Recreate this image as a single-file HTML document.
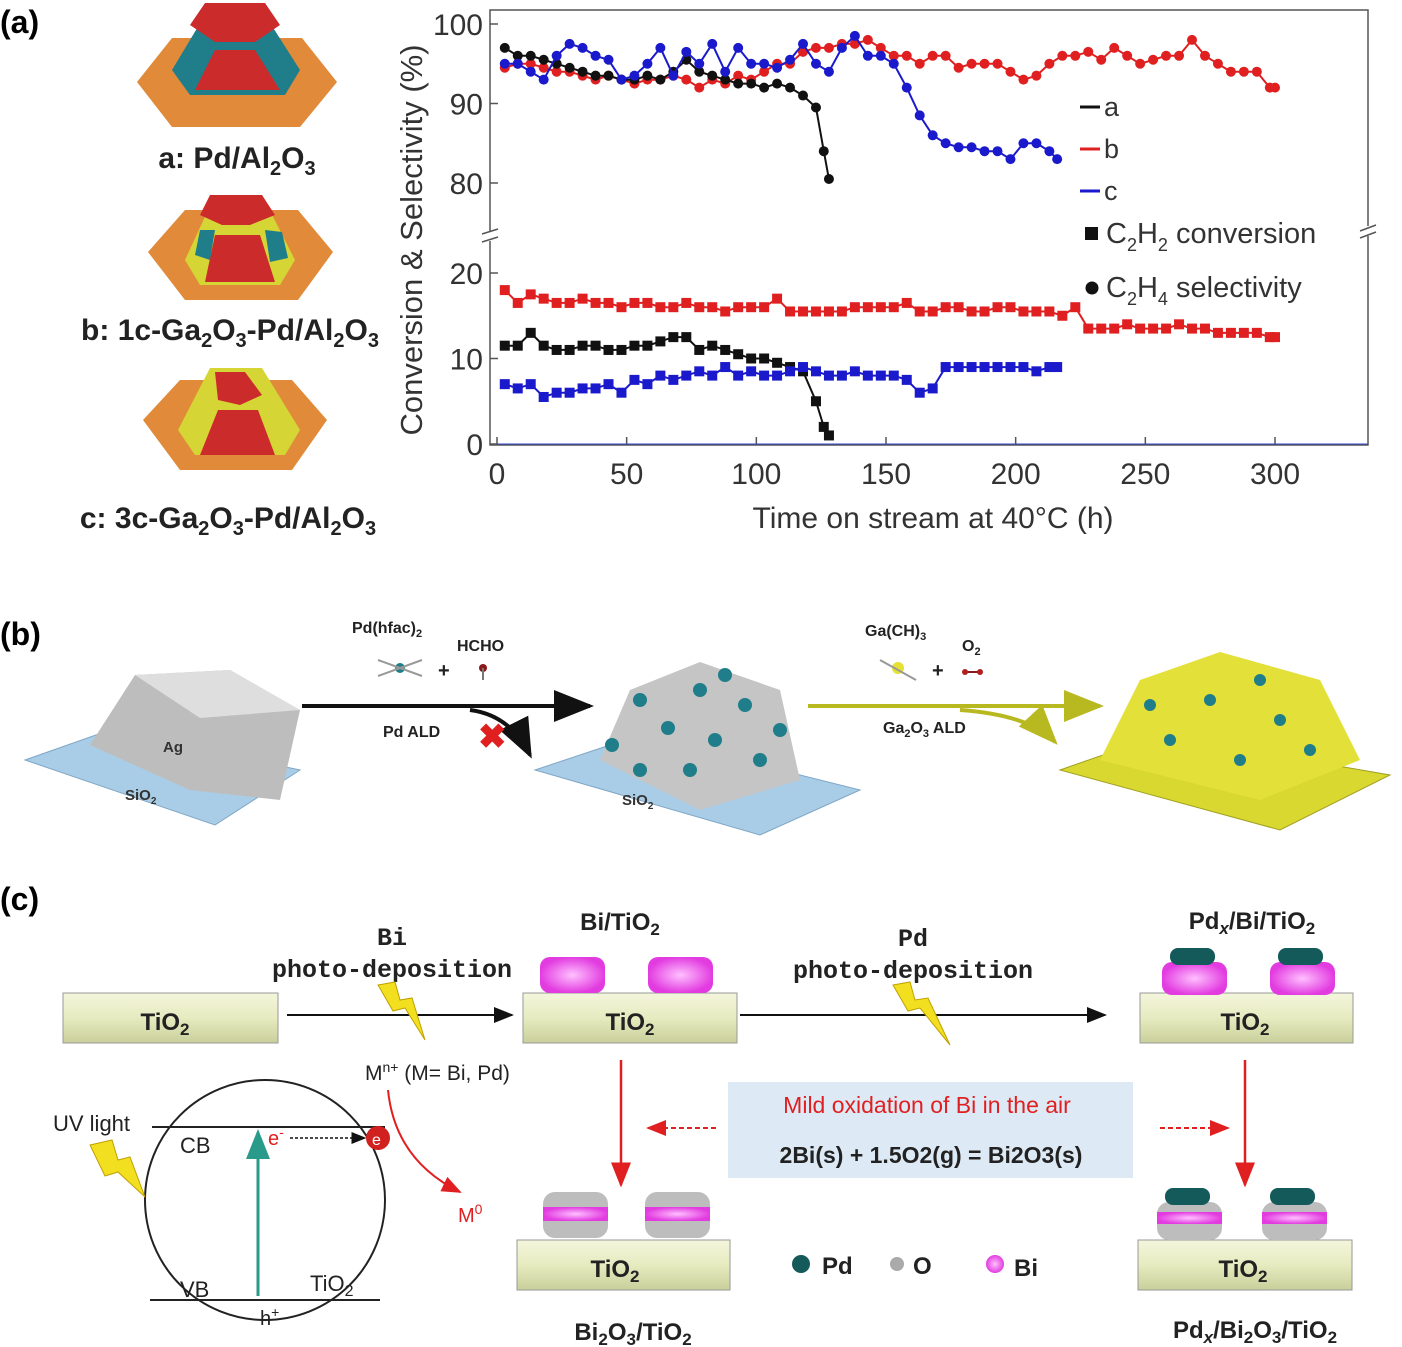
<!DOCTYPE html>
<html><head><meta charset="utf-8"><style>
html,body{margin:0;padding:0;background:#fff}
svg{display:block}
.lab{font-family:"Liberation Sans",sans-serif}
.bold{font-family:"Liberation Sans",sans-serif;font-weight:bold}
.mono{font-family:"Liberation Mono",monospace;font-weight:bold}
</style></head><body>
<svg id="fig" width="1402" height="1347" viewBox="0 0 1402 1347" xmlns="http://www.w3.org/2000/svg">
<defs>
<linearGradient id="tube" x1="0" y1="0" x2="0" y2="1"><stop offset="0" stop-color="#f4f6dc"/><stop offset="0.5" stop-color="#e6ebc0"/><stop offset="1" stop-color="#c9cf9a"/></linearGradient>
<radialGradient id="pk"><stop offset="0" stop-color="#ffc0ff"/><stop offset="1" stop-color="#e23ce0"/></radialGradient>
<marker id="ah" markerWidth="10" markerHeight="10" refX="9" refY="5" orient="auto"><path d="M0,1 L10,5 L0,9 z" fill="#111"/></marker>
<marker id="ahr" markerWidth="10" markerHeight="10" refX="9" refY="5" orient="auto"><path d="M0,1 L10,5 L0,9 z" fill="#e02020"/></marker>
<marker id="ahy" markerWidth="10" markerHeight="10" refX="9" refY="5" orient="auto"><path d="M0,1 L10,5 L0,9 z" fill="#b8b820"/></marker>
<marker id="aht" markerWidth="10" markerHeight="10" refX="9" refY="5" orient="auto"><path d="M0,1 L10,5 L0,9 z" fill="#2a9a8a"/></marker>
</defs>

<text x="0" y="33" class="bold" font-size="32">(a)</text>

<g>
<polygon points="137,82 172,38 302,38 337,82 300,127 172,127" fill="#e08a3a"/>
<polygon points="172,70 205,15 265,15 300,70 285,95 190,95" fill="#1f7e8a"/>
<polygon points="205,3 265,3 280,25 255,42 215,42 190,25" fill="#cc2b2b"/>
<polygon points="215,50 255,50 280,90 195,90" fill="#cc2b2b"/>
</g>
<text x="237" y="168" text-anchor="middle" class="bold" font-size="30" fill="#222">a: Pd/Al<tspan font-size="20" dy="7">2</tspan><tspan dy="-7">O</tspan><tspan font-size="20" dy="7">3</tspan></text>

<g>
<polygon points="148,252 185,210 298,210 333,252 298,300 185,300" fill="#e08a3a"/>
<polygon points="185,260 215,195 262,195 295,260 280,285 200,285" fill="#d5d535"/>
<polygon points="210,195 262,195 275,215 250,225 222,225 200,215" fill="#cc2b2b"/>
<polygon points="215,235 260,235 275,282 205,282" fill="#cc2b2b"/>
<polygon points="200,230 215,230 210,260 195,255" fill="#1f7e8a"/>
<polygon points="265,230 282,232 288,258 270,262" fill="#1f7e8a"/>
</g>
<text x="230" y="340" text-anchor="middle" class="bold" font-size="30" fill="#222">b: 1c-Ga<tspan font-size="20" dy="7">2</tspan><tspan dy="-7">O</tspan><tspan font-size="20" dy="7">3</tspan><tspan dy="-7">-Pd/Al</tspan><tspan font-size="20" dy="7">2</tspan><tspan dy="-7">O</tspan><tspan font-size="20" dy="7">3</tspan></text>

<g>
<polygon points="143,420 180,380 292,380 327,420 292,470 180,470" fill="#e08a3a"/>
<polygon points="178,430 210,368 262,368 300,430 285,455 195,455" fill="#d5d535"/>
<polygon points="215,372 245,372 262,395 240,405 218,400" fill="#cc2b2b"/>
<polygon points="218,410 258,410 275,455 200,455" fill="#cc2b2b"/>
</g>
<text x="228" y="528" text-anchor="middle" class="bold" font-size="30" fill="#222">c: 3c-Ga<tspan font-size="20" dy="7">2</tspan><tspan dy="-7">O</tspan><tspan font-size="20" dy="7">3</tspan><tspan dy="-7">-Pd/Al</tspan><tspan font-size="20" dy="7">2</tspan><tspan dy="-7">O</tspan><tspan font-size="20" dy="7">3</tspan></text>

<g id="chart">
<rect x="490" y="10" width="878" height="435" fill="none" stroke="#555" stroke-width="1.5"/>
<text transform="translate(422,240) rotate(-90)" text-anchor="middle" class="lab" font-size="31" fill="#333">Conversion &amp; Selectivity (%)</text>
<text x="933" y="528" text-anchor="middle" class="lab" font-size="30" fill="#333">Time on stream at 40°C (h)</text>
<g id="ticks"></g>
<g id="series"></g>
<g>
<line x1="1080" y1="107" x2="1100" y2="107" stroke="#111" stroke-width="3"/><text x="1104" y="116" class="lab" font-size="27" fill="#333">a</text>
<line x1="1080" y1="149" x2="1100" y2="149" stroke="#e02020" stroke-width="3"/><text x="1104" y="158" class="lab" font-size="27" fill="#333">b</text>
<line x1="1080" y1="191" x2="1100" y2="191" stroke="#1a1acc" stroke-width="3"/><text x="1104" y="200" class="lab" font-size="27" fill="#333">c</text>
<rect x="1085" y="227" width="13" height="13" fill="#111"/>
<text x="1106" y="243" class="lab" font-size="29" fill="#333">C<tspan font-size="18" dy="8">2</tspan><tspan dy="-8">H</tspan><tspan font-size="18" dy="8">2</tspan><tspan dy="-8"> conversion</tspan></text>
<circle cx="1092" cy="288" r="6.5" fill="#111"/>
<text x="1106" y="297" class="lab" font-size="29" fill="#333">C<tspan font-size="18" dy="8">2</tspan><tspan dy="-8">H</tspan><tspan font-size="18" dy="8">4</tspan><tspan dy="-8"> selectivity</tspan></text>
</g>
<g>
<rect x="480" y="231" width="20" height="10" fill="#fff"/>
<line x1="482" y1="234" x2="498" y2="229" stroke="#555" stroke-width="1.5"/>
<line x1="482" y1="242" x2="498" y2="237" stroke="#555" stroke-width="1.5"/>
<rect x="1360" y="226" width="16" height="10" fill="#fff"/>
<line x1="1360" y1="231" x2="1376" y2="225" stroke="#555" stroke-width="1.5"/>
<line x1="1360" y1="238" x2="1376" y2="232" stroke="#555" stroke-width="1.5"/>
</g>
</g>

<text x="0" y="645" class="bold" font-size="32">(b)</text>
<g>
<polygon points="25,760 110,730 300,770 215,825" fill="#a9cde6" stroke="#7ea6c6"/>
<polygon points="90,745 135,675 230,670 300,710 280,800 190,790" fill="#bdbdbd"/>
<polygon points="135,675 230,670 300,710 200,718" fill="#dedede"/>
<text x="163" y="752" class="bold" font-size="15" fill="#333">Ag</text>
<text x="125" y="800" class="bold" font-size="15" fill="#333">SiO<tspan font-size="10" dy="4">2</tspan></text>
</g>
<line x1="302" y1="706" x2="590" y2="706" stroke="#111" stroke-width="4" marker-end="url(#ah)"/>
<text x="352" y="633" class="bold" font-size="16" fill="#222">Pd(hfac)<tspan font-size="11" dy="4">2</tspan></text>
<text x="457" y="651" class="bold" font-size="16" fill="#222">HCHO</text>
<text x="438" y="677" class="bold" font-size="20" fill="#222">+</text>
<g><circle cx="400" cy="668" r="5" fill="#1f7e8a"/><line x1="378" y1="660" x2="422" y2="676" stroke="#999" stroke-width="2"/><line x1="378" y1="676" x2="422" y2="660" stroke="#999" stroke-width="2"/></g>
<g><circle cx="483" cy="668" r="4" fill="#8b1a1a"/><line x1="483" y1="668" x2="483" y2="680" stroke="#777" stroke-width="2"/></g>
<text x="383" y="737" class="bold" font-size="16" fill="#222">Pd ALD</text>
<path d="M470,710 Q510,715 530,755" fill="none" stroke="#111" stroke-width="4" marker-end="url(#ah)"/>
<text x="478" y="748" class="bold" font-size="34" fill="#e02020">✖</text>
<g>
<polygon points="535,770 640,735 860,790 760,835" fill="#a9cde6" stroke="#7ea6c6"/>
<polygon points="600,760 630,690 700,662 780,690 800,780 700,810" fill="#c5c5c5"/>
<g fill="#1f7e8a">
<circle cx="612" cy="745" r="7"/><circle cx="640" cy="700" r="7"/><circle cx="668" cy="728" r="7"/><circle cx="700" cy="690" r="7"/><circle cx="715" cy="740" r="7"/><circle cx="745" cy="705" r="7"/><circle cx="760" cy="760" r="7"/><circle cx="690" cy="770" r="7"/><circle cx="640" cy="770" r="7"/><circle cx="780" cy="730" r="7"/><circle cx="725" cy="675" r="7"/>
</g>
<text x="622" y="805" class="bold" font-size="15" fill="#333">SiO<tspan font-size="10" dy="4">2</tspan></text>
</g>
<line x1="808" y1="706" x2="1100" y2="706" stroke="#b8b820" stroke-width="4" marker-end="url(#ahy)"/>
<text x="865" y="636" class="bold" font-size="16" fill="#222">Ga(CH)<tspan font-size="11" dy="4">3</tspan></text>
<text x="962" y="651" class="bold" font-size="16" fill="#222">O<tspan font-size="11" dy="4">2</tspan></text>
<text x="932" y="677" class="bold" font-size="20" fill="#222">+</text>
<g><circle cx="898" cy="668" r="6" fill="#e8e030"/><line x1="880" y1="660" x2="916" y2="680" stroke="#999" stroke-width="2"/></g>
<g><line x1="965" y1="672" x2="980" y2="672" stroke="#8b1a1a" stroke-width="2"/><circle cx="965" cy="672" r="3" fill="#b02020"/><circle cx="980" cy="672" r="3" fill="#b02020"/></g>
<text x="883" y="733" class="bold" font-size="16" fill="#222">Ga<tspan font-size="11" dy="4">2</tspan><tspan dy="-4">O</tspan><tspan font-size="11" dy="4">3</tspan><tspan dy="-4"> ALD</tspan></text>
<path d="M960,710 Q1030,715 1055,742" fill="none" stroke="#b8b820" stroke-width="4" marker-end="url(#ahy)"/>
<g>
<polygon points="1060,770 1160,735 1390,775 1280,830" fill="#d8d830" stroke="#a0a020"/>
<polygon points="1100,760 1140,680 1220,652 1320,680 1360,760 1260,800" fill="#e4e03a"/>
<g fill="#1f7e8a">
<circle cx="1170" cy="740" r="6"/><circle cx="1210" cy="700" r="6"/><circle cx="1240" cy="760" r="6"/><circle cx="1280" cy="720" r="6"/><circle cx="1150" cy="705" r="6"/><circle cx="1310" cy="750" r="6"/><circle cx="1260" cy="680" r="6"/>
</g>
</g>

<text x="0" y="910" class="bold" font-size="32">(c)</text>
<g><rect x="63" y="993" width="215" height="50" fill="url(#tube)" stroke="#999"/><text x="165" y="1030" text-anchor="middle" class="bold" font-size="24" fill="#222">TiO<tspan font-size="17" dy="5">2</tspan></text></g>
<line x1="287" y1="1015" x2="512" y2="1015" stroke="#111" stroke-width="2" marker-end="url(#ah)"/>
<text x="392" y="945" text-anchor="middle" class="mono" font-size="25" fill="#222">Bi</text>
<text x="392" y="977" text-anchor="middle" class="mono" font-size="25" fill="#222">photo-deposition</text>
<polygon points="378,985 395,982 400,1000 412,998 425,1040 405,1008 393,1011" fill="#f2e020" stroke="#c0a000"/>
<text x="620" y="930" text-anchor="middle" class="bold" font-size="24" fill="#222">Bi/TiO<tspan font-size="17" dy="5">2</tspan></text>
<g><rect x="523" y="993" width="214" height="50" fill="url(#tube)" stroke="#999"/><text x="630" y="1030" text-anchor="middle" class="bold" font-size="24" fill="#222">TiO<tspan font-size="17" dy="5">2</tspan></text></g>
<g><rect x="540" y="957" width="65" height="36" rx="10" fill="url(#pk)"/><rect x="648" y="957" width="65" height="36" rx="10" fill="url(#pk)"/></g>
<line x1="740" y1="1015" x2="1105" y2="1015" stroke="#111" stroke-width="2" marker-end="url(#ah)"/>
<text x="913" y="946" text-anchor="middle" class="mono" font-size="25" fill="#222">Pd</text>
<text x="913" y="978" text-anchor="middle" class="mono" font-size="25" fill="#222">photo-deposition</text>
<polygon points="893,985 910,982 915,1000 928,998 950,1045 920,1008 908,1011" fill="#f2e020" stroke="#c0a000"/>
<text x="1252" y="929" text-anchor="middle" class="bold" font-size="24" fill="#222">Pd<tspan font-style="italic" font-size="17" dy="5">x</tspan><tspan dy="-5">/Bi/TiO</tspan><tspan font-size="17" dy="5">2</tspan></text>
<g><rect x="1140" y="993" width="213" height="50" fill="url(#tube)" stroke="#999"/><text x="1245" y="1030" text-anchor="middle" class="bold" font-size="24" fill="#222">TiO<tspan font-size="17" dy="5">2</tspan></text></g>
<g><rect x="1162" y="962" width="65" height="33" rx="10" fill="url(#pk)"/><rect x="1270" y="962" width="65" height="33" rx="10" fill="url(#pk)"/><rect x="1170" y="948" width="45" height="17" rx="8" fill="#145a5a"/><rect x="1278" y="948" width="45" height="17" rx="8" fill="#145a5a"/></g>
<line x1="621" y1="1060" x2="621" y2="1185" stroke="#e02020" stroke-width="2.5" marker-end="url(#ahr)"/>
<line x1="1245" y1="1060" x2="1245" y2="1185" stroke="#e02020" stroke-width="2.5" marker-end="url(#ahr)"/>
<rect x="728" y="1082" width="405" height="96" fill="#ddeaf6"/>
<text x="927" y="1113" text-anchor="middle" class="lab" font-size="23" fill="#e02020">Mild oxidation of Bi in the air</text>
<text x="931" y="1163" text-anchor="middle" class="bold" font-size="23" fill="#222">2Bi(s) + 1.5O2(g) = Bi2O3(s)</text>
<line x1="716" y1="1128" x2="648" y2="1128" stroke="#e02020" stroke-width="2" stroke-dasharray="5,3" marker-end="url(#ahr)"/>
<line x1="1160" y1="1128" x2="1228" y2="1128" stroke="#e02020" stroke-width="2" stroke-dasharray="5,3" marker-end="url(#ahr)"/>
<g><rect x="517" y="1240" width="213" height="50" fill="url(#tube)" stroke="#999"/><text x="615" y="1277" text-anchor="middle" class="bold" font-size="24" fill="#222">TiO<tspan font-size="17" dy="5">2</tspan></text></g>
<g><rect x="543" y="1192" width="65" height="46" rx="12" fill="#bdbdbd"/><rect x="543" y="1207" width="65" height="14" fill="url(#pk)"/><rect x="645" y="1192" width="65" height="46" rx="12" fill="#bdbdbd"/><rect x="645" y="1207" width="65" height="14" fill="url(#pk)"/></g>
<g><rect x="1138" y="1240" width="214" height="50" fill="url(#tube)" stroke="#999"/><text x="1243" y="1277" text-anchor="middle" class="bold" font-size="24" fill="#222">TiO<tspan font-size="17" dy="5">2</tspan></text></g>
<g><rect x="1157" y="1202" width="65" height="38" rx="12" fill="#bdbdbd"/><rect x="1157" y="1212" width="65" height="12" fill="url(#pk)"/><rect x="1262" y="1202" width="65" height="38" rx="12" fill="#bdbdbd"/><rect x="1262" y="1212" width="65" height="12" fill="url(#pk)"/><rect x="1165" y="1188" width="45" height="17" rx="8" fill="#145a5a"/><rect x="1270" y="1188" width="45" height="17" rx="8" fill="#145a5a"/></g>
<text x="633" y="1340" text-anchor="middle" class="bold" font-size="24" fill="#222">Bi<tspan font-size="17" dy="5">2</tspan><tspan dy="-5">O</tspan><tspan font-size="17" dy="5">3</tspan><tspan dy="-5">/TiO</tspan><tspan font-size="17" dy="5">2</tspan></text>
<text x="1255" y="1338" text-anchor="middle" class="bold" font-size="24" fill="#222">Pd<tspan font-style="italic" font-size="17" dy="5">x</tspan><tspan dy="-5">/Bi</tspan><tspan font-size="17" dy="5">2</tspan><tspan dy="-5">O</tspan><tspan font-size="17" dy="5">3</tspan><tspan dy="-5">/TiO</tspan><tspan font-size="17" dy="5">2</tspan></text>
<g>
<circle cx="801" cy="1264" r="9" fill="#145a5a"/><text x="822" y="1274" class="bold" font-size="24" fill="#222">Pd</text>
<circle cx="897" cy="1264" r="7" fill="#aaa"/><text x="913" y="1274" class="bold" font-size="24" fill="#222">O</text>
<circle cx="995" cy="1264" r="9" fill="url(#pk)"/><text x="1014" y="1276" class="bold" font-size="24" fill="#222">Bi</text>
</g>
<g>
<circle cx="265" cy="1200" r="120" fill="none" stroke="#222" stroke-width="2"/>
<line x1="152" y1="1127" x2="385" y2="1127" stroke="#222" stroke-width="2"/>
<line x1="150" y1="1300" x2="380" y2="1300" stroke="#222" stroke-width="2"/>
<text x="180" y="1153" class="lab" font-size="22" fill="#222">CB</text>
<text x="180" y="1297" class="lab" font-size="22" fill="#222">VB</text>
<text x="310" y="1291" class="lab" font-size="22" fill="#222">TiO<tspan font-size="16" dy="5">2</tspan></text>
<text x="260" y="1325" class="lab" font-size="20" fill="#222">h<tspan font-size="14" dy="-8">+</tspan></text>
<line x1="258" y1="1296" x2="258" y2="1132" stroke="#2a9a8a" stroke-width="3" marker-end="url(#aht)"/>
<text x="268" y="1145" class="lab" font-size="20" fill="#e02020">e<tspan font-size="14" dy="-8">-</tspan></text>
<line x1="290" y1="1138" x2="365" y2="1138" stroke="#111" stroke-width="1.5" stroke-dasharray="3,2" marker-end="url(#ah)"/>
<circle cx="378" cy="1138" r="12" fill="#d02020"/><text x="372" y="1145" class="lab" font-size="16" fill="#fff">e</text>
<text x="365" y="1080" class="lab" font-size="21" fill="#222">M<tspan font-size="14" dy="-8">n+</tspan><tspan dy="8"> (M= Bi, Pd)</tspan></text>
<path d="M388,1090 Q395,1160 460,1192" fill="none" stroke="#e02020" stroke-width="2" marker-end="url(#ahr)"/>
<text x="458" y="1222" class="lab" font-size="20" fill="#e02020">M<tspan font-size="14" dy="-8">0</tspan></text>
<text x="53" y="1131" class="lab" font-size="22" fill="#222">UV light</text>
<polygon points="90,1145 112,1140 118,1160 130,1157 145,1197 118,1172 105,1176" fill="#f2e020" stroke="#c0a000"/>
</g>
</svg>
<script>
const xTicks = [0,50,100,150,200,250,300];
const upperTicks = [100,90,80];
const lowerTicks = [20,10,0];
const timeA = [3,8,13,18,23,28,33,38,43,48,53,58,63,68,73,78,83,88,93,98,103,108,113,118,123,126,128];
const selA = [97,96,96,95.5,95,94.5,94,93.5,93.5,93,93,93.5,93,94,95.5,94,93.5,93,92.5,92.5,92,92.5,92,91,89.5,84,80.5];
const convA = [11.5,11.5,13,11.5,11,11,11.5,11.5,11,11,11.5,11.5,12,12.5,12.5,11,11.5,11,10.5,10,10,9.5,9,8.5,5,2,1];
const timeB = [3,8,13,18,23,28,33,38,43,48,53,58,63,68,73,78,83,88,93,98,103,108,113,118,123,128,133,138,143,148,153,158,163,168,173,178,183,188,193,198,203,208,213,218,223,228,233,238,243,248,253,258,263,268,273,278,283,288,293,298,300];
const selB = [94.5,95,95,94.5,94,94,93.5,93,93.5,93,92.5,93,93,93.5,93,92,93,92.5,93.5,93,94,95,95,96.5,97,97,97.5,97.5,98,97,96,96,95,96,96,94.5,95,95,95,94,93,93.5,95,96,96,96.5,95.5,97,96,95,95.5,96,96,98,96,95,94,94,94,92,92];
const convB = [18,16.5,17.5,17,16.5,16.5,17,16.5,16.5,16,16.5,16.5,16,16,16.5,16,16,15.5,16,16,16,17,15.5,15.5,15.5,15.5,15.5,16,16,16,16,16.5,15.5,15.5,16,16,15.5,15.5,16,16,15.5,15.5,15.5,15,16,13.5,13.5,13.5,14,13.5,13.5,13.5,14,13.5,13.5,13,13,13,13,12.5,12.5];
const timeC = [3,8,13,18,23,28,33,38,43,48,53,58,63,68,73,78,83,88,93,98,103,108,113,118,123,128,133,138,143,148,153,158,163,168,173,178,183,188,193,198,203,208,213,216];
const selC = [95,95,94,93,96,97.5,97,96,95.5,93,93.5,95,97,93.5,96.5,95,97.5,94,97,95,95,94.5,95.5,97.5,95,94,97,98.5,96,96,95,92,88.5,86,85,84.5,84.5,84,84,83,85,85,84,83];
const convC = [7,6.5,7,5.5,6,6,6.5,6.5,7,6,7.5,7,8,7.5,8,8.5,8,9,8,8.5,8,8,8.5,9,8.5,8,8,8.5,8,8,8,7.5,6,6.5,9,9,9,9,9,9,9,8.5,9,9];

const NS = 'http://www.w3.org/2000/svg';
function xS(t){ return 497 + t * (1275 - 497) / 300; }
function yUp(v){ return 24 + (100 - v) * (183 - 24) / 20; }
function yLo(v){ return 444 - v * (444 - 273) / 20; }
const tickG = document.getElementById('ticks');
const serG = document.getElementById('series');
function mk(tag, attrs, parent){ const e = document.createElementNS(NS, tag); for (const k in attrs) e.setAttribute(k, attrs[k]); parent.appendChild(e); return e; }

xTicks.forEach(t => {
  const x = xS(t);
  const l = mk('line', {x1:x, y1:445, x2:x, y2:437, stroke:'#555', 'stroke-width':1.5}, tickG);
  
  
  const tx = mk('text', {x:x, y:484, 'text-anchor':'middle', class:'lab', 'font-size':30, fill:'#333'}, tickG);
  tx.textContent = t;
  
  
});
upperTicks.forEach(v => {
  const y = yUp(v);
  mk('line', {x1:490, y1:y, x2:498, y2:y, stroke:'#555', 'stroke-width':1.5}, tickG);
  const tx = mk('text', {x:483, y:y+11, 'text-anchor':'end', class:'lab', 'font-size':30, fill:'#333'}, tickG);
  tx.textContent = v;
  
  
});
lowerTicks.forEach(v => {
  const y = yLo(v);
  mk('line', {x1:490, y1:y, x2:498, y2:y, stroke:'#555', 'stroke-width':1.5}, tickG);
  const tx = mk('text', {x:483, y:y+11, 'text-anchor':'end', class:'lab', 'font-size':30, fill:'#333'}, tickG);
  tx.textContent = v;
  
  
});
mk('line', {x1:497, y1:444, x2:1368, y2:444, stroke:'#3344cc', 'stroke-width':1}, tickG);

function drawSeries(times, vals, yf, color, shape, name){
  const g = mk('g', {}, serG);
  
  
  const pts = times.map((t,i) => xS(t).toFixed(1) + ',' + yf(vals[i]).toFixed(1)).join(' ');
  mk('polyline', {points:pts, fill:'none', stroke:color, 'stroke-width':2}, g);
  times.forEach((t,i) => {
    const x = xS(t), y = yf(vals[i]);
    let m;
    if (shape === 'circle') m = mk('circle', {cx:x, cy:y, r:5, fill:color}, g);
    else m = mk('rect', {x:x-5, y:y-5, width:10, height:10, fill:color}, g);
    
    
  });
}
drawSeries(timeB, convB, yLo, '#e02020', 'rect', 'conversion-b');
drawSeries(timeA, convA, yLo, '#111111', 'rect', 'conversion-a');
drawSeries(timeC, convC, yLo, '#1a1acc', 'rect', 'conversion-c');
drawSeries(timeB, selB, yUp, '#e02020', 'circle', 'selectivity-b');
drawSeries(timeA, selA, yUp, '#111111', 'circle', 'selectivity-a');
drawSeries(timeC, selC, yUp, '#1a1acc', 'circle', 'selectivity-c');
</script>
</body></html>
